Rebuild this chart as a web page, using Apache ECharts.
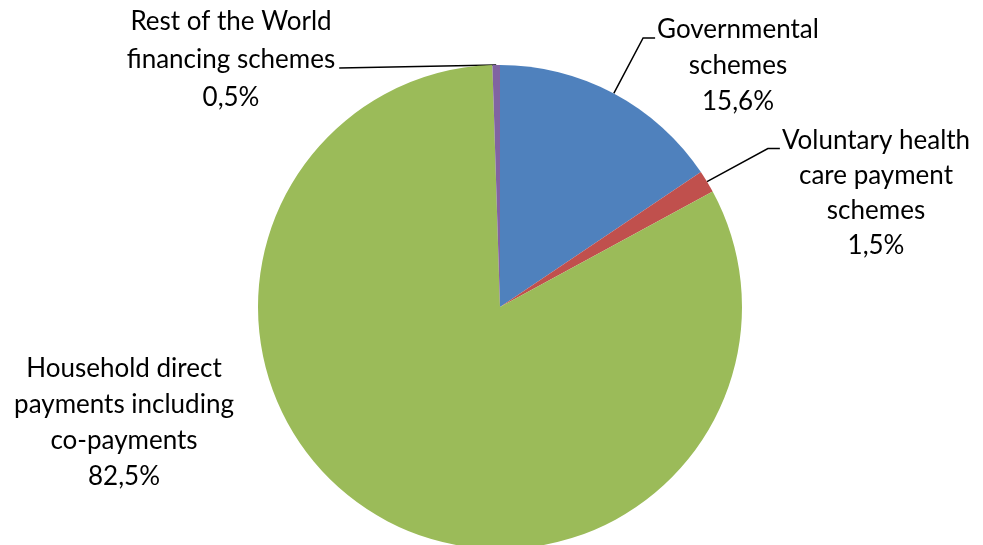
<!DOCTYPE html>
<html>
<head>
<meta charset="utf-8">
<script src="https://cdn.jsdelivr.net/npm/echarts@6/dist/echarts.min.js"></script>
<style>
html,body{margin:0;padding:0;background:#fff;}
#chart{width:983px;height:545px;}
</style>
</head>
<body>
<div id="chart"></div>
<script>
// Data
var categories = [
  'Governmental\nschemes',
  'Voluntary health\ncare payment\nschemes',
  'Household direct\npayments including\nco-payments',
  'Rest of the World\nfinancing schemes'
];
var shares = [15.6, 1.5, 82.5, 0.5];
var colors = ['#4F81BD', '#C0504D', '#9BBB59', '#8064A2'];

// Label layout (centre of each label block, in px) and line heights
var labelPos = [[738, 66], [876, 193], [124, 423], [231, 60]];
var lineHeights = [36, 35, 36, 38];

var chart = echarts.init(document.getElementById('chart'));
var data = categories.map(function (c, i) {
  var item = {
    name: c, value: shares[i],
    itemStyle: { color: colors[i] },
    label: { lineHeight: lineHeights[i] }
  };
  if (i === 2) item.labelLine = { show: false };
  return item;
});

chart.setOption({
  animation: false,
  series: [{
    type: 'pie',
    center: [500, 307],
    radius: 242,
    startAngle: 90,
    clockwise: true,
    avoidLabelOverlap: false,
    data: data,
    itemStyle: { borderWidth: 0 },
    emphasis: { disabled: true },
    label: {
      show: true,
      position: 'outside',
      color: '#000',
      fontFamily: 'Lato',
      fontSize: 26,
      align: 'center',
      formatter: function (p) {
        return p.name + '\n' + p.value.toFixed(1).replace('.', ',') + '%';
      }
    },
    labelLine: {
      show: true,
      length: 20,
      length2: 10,
      lineStyle: { color: '#000', width: 1.5 }
    },
    labelLayout: function (p) {
      var i = p.dataIndex;
      var LH = lineHeights[i];
      var pos = labelPos[i];
      var w = p.labelRect.width, h = p.labelRect.height;
      var left = pos[0] - w / 2, top = pos[1] - h / 2, right = pos[0] + w / 2;
      var res = { x: pos[0], y: pos[1], align: 'center', verticalAlign: 'middle' };
      var pts = p.labelLinePoints;
      if (pts && pts.length) {
        var s = pts[0];
        var ly = top + LH / 2 + 8;
        if (i === 0 || i === 1) {
          res.labelLinePoints = [[s[0], s[1]], [left - 14, ly], [left - 2, ly]];
        } else if (i === 3) {
          var ry = top + LH * 1.5 + 8;
          res.labelLinePoints = [[s[0], s[1]], [right + 4, ry], [right + 4, ry]];
        }
      }
      return res;
    }
  }]
});
</script>
</body>
</html>
